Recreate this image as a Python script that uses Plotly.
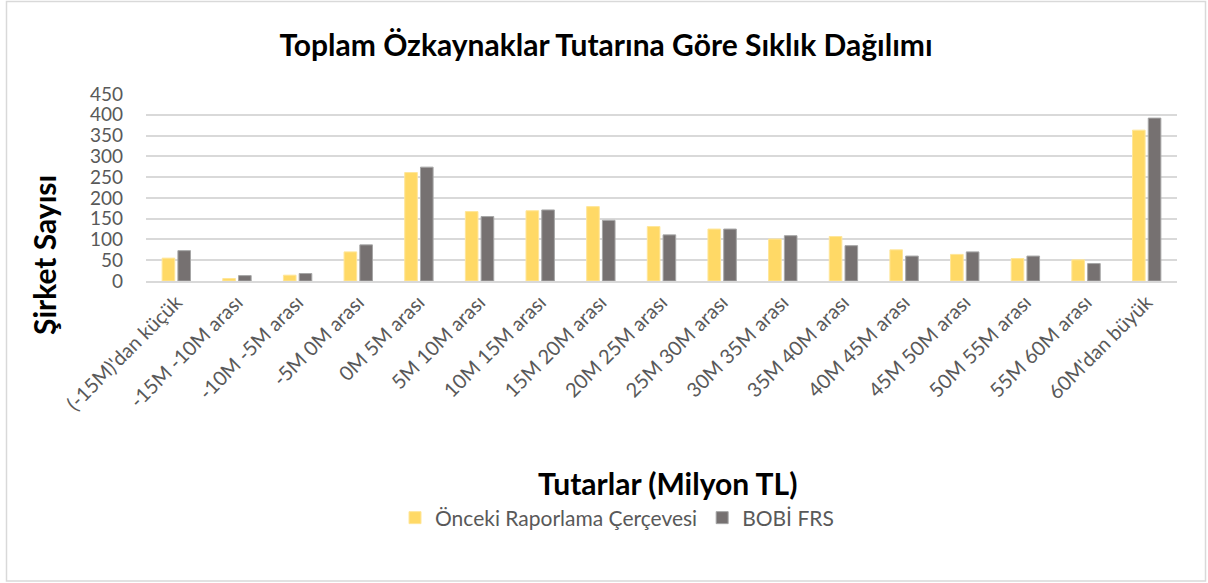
import plotly.graph_objects as go

categories = ["(-15M)'dan küçük", "-15M -10M arası", "-10M -5M arası", "-5M 0M arası",
              "0M 5M arası", "5M 10M arası", "10M 15M arası", "15M 20M arası",
              "20M 25M arası", "25M 30M arası", "30M 35M arası", "35M 40M arası",
              "40M 45M arası", "45M 50M arası", "50M 55M arası", "55M 60M arası",
              "60M'dan büyük"]
onceki = [55, 6, 14, 70, 261, 167, 169, 179, 131, 125, 101, 107, 75, 64, 54, 51, 363]
bobi = [73, 13, 18, 87, 274, 155, 171, 146, 111, 125, 109, 85, 60, 70, 60, 42, 392]
series_names = ["Önceki Raporlama Çerçevesi", "BOBİ FRS"]
y_ticks = [0, 50, 100, 150, 200, 250, 300, 350, 400, 450]

W, H = 1208, 583
L, R, T, B = 146, 31, 94, 302
pw, ph = W - L - R, H - T - B

def px(x):
    return (x - L) / pw

def py(y):
    return (H - B - y) / ph

fig = go.Figure()
fig.add_trace(go.Bar(x=categories, y=onceki, name=series_names[0],
                     marker=dict(color="#FFD966", line=dict(color="#FFE699", width=1))))
fig.add_trace(go.Bar(x=categories, y=bobi, name=series_names[1],
                     marker=dict(color="#767171", line=dict(color="#A6A6A6", width=1))))

font_main = "Lato, 'Open Sans', sans-serif"

fig.update_layout(
    width=W, height=H,
    margin=dict(l=L, r=R, t=T, b=B, autoexpand=False),
    paper_bgcolor="white", plot_bgcolor="white",
    barmode="group", bargap=0.48, bargroupgap=0.2,
    font=dict(family=font_main, color="#595959"),
    title=dict(text="<b>Toplam Özkaynaklar Tutarına Göre Sıklık Dağılımı</b>",
               x=606 / W, xanchor="center", y=1 - 45 / H, yanchor="middle",
               font=dict(size=30, color="black", family=font_main)),
    showlegend=True,
    legend=dict(orientation="h", x=px(617), xanchor="center", y=py(518), yanchor="middle",
                font=dict(size=21, color="#595959", family=font_main),
                itemwidth=30, tracegroupgap=0),
    xaxis=dict(tickangle=-45, tickfont=dict(size=20, color="#595959"),
               showgrid=False, showline=True, linecolor="#D9D9D9", linewidth=1.5,
               ticks="", automargin=False),
    yaxis=dict(range=[0, 450], tickvals=y_ticks, tickfont=dict(size=19, color="#595959"),
               showgrid=True, gridcolor="#D9D9D9", gridwidth=1.5, zeroline=False,
               showline=False, ticks="", automargin=False, ticklabelstandoff=22),
    shapes=[dict(type="rect", xref="paper", yref="paper",
                 x0=px(6.5), x1=px(1205.5), y0=py(581), y1=py(1.5),
                 line=dict(color="#D9D9D9", width=1.5), fillcolor="rgba(0,0,0,0)", layer="below")],
    annotations=[
        dict(text="<b>Şirket Sayısı</b>", xref="paper", yref="paper", x=px(44), y=py(255),
             textangle=-90, showarrow=False, xanchor="center", yanchor="middle",
             font=dict(size=30, color="black", family=font_main)),
        dict(text="<b>Tutarlar (Milyon TL)</b>", xref="paper", yref="paper", x=px(667), y=py(483),
             showarrow=False, xanchor="center", yanchor="middle",
             font=dict(size=30, color="black", family=font_main)),
    ],
)

fig.write_html("out.html", config={"displayModeBar": False},
               post_script="document.body.style.margin='0';document.body.style.padding='0';")
